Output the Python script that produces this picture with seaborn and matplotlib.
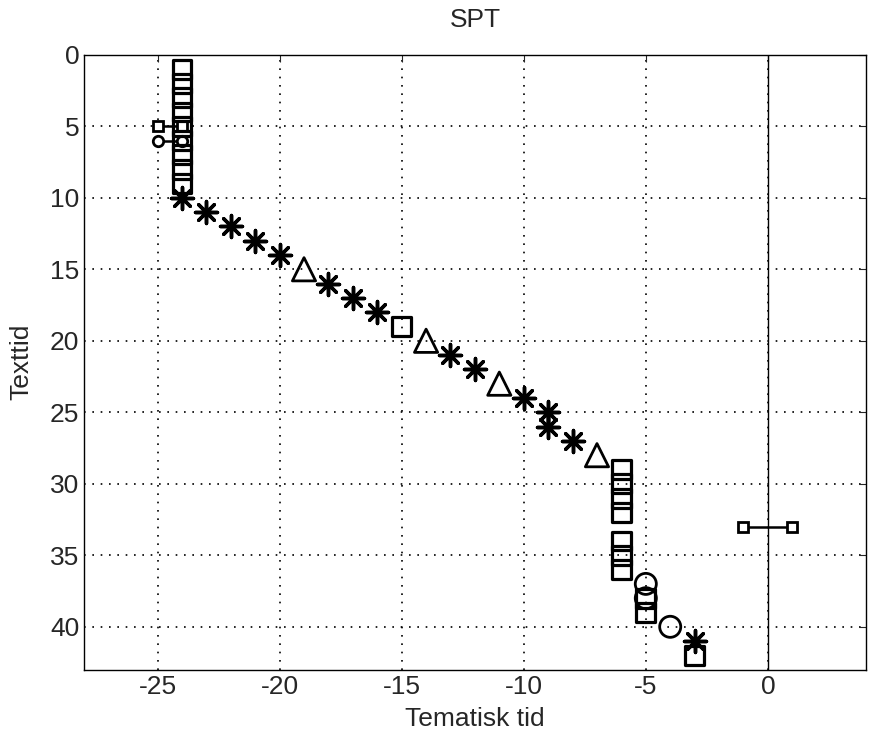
import numpy as np
import pandas as pd
import seaborn as sns
import matplotlib.pyplot as plt

# points (x = Tematisk tid, y = Texttid)
sq_x = [-24, -24, -24, -24, -24, -24, -24, -24, -24, -15,
        -6, -6, -6, -6, -6, -6, -6, -5, -5, -3]
sq_y = [1, 2, 3, 4, 5, 6, 7, 8, 9, 19,
        29, 30, 31, 32, 34, 35, 36, 38, 39, 42]
ast_x = [-24, -23, -22, -21, -20, -18, -17, -16, -13, -12, -10, -9, -9, -8, -3]
ast_y = [10, 11, 12, 13, 14, 16, 17, 18, 21, 22, 24, 25, 26, 27, 41]
tri_x = [-19, -14, -11, -7]
tri_y = [15, 20, 23, 28]
circ_x = [-5, -5, -4]
circ_y = [37, 38, 40]

# short segments with small end markers
seg_sq = [([-25, -24], [5, 5]), ([-1, 1], [33, 33])]
seg_circ = [([-25, -24], [6, 6])]

sns.set_style('white')
plt.rcParams['font.family'] = ['Liberation Sans', 'DejaVu Sans']
plt.rcParams['axes.unicode_minus'] = False

fig = plt.figure(figsize=(8.69, 7.4), dpi=100)
ax = fig.add_axes([0.097, 0.095, 0.899, 0.831])

# vertical reference line at 0
ax.axvline(0, color='black', lw=1, zorder=1)

for xs, ys in seg_sq:
    sns.lineplot(x=xs, y=ys, ax=ax, color='black', lw=1.8, sort=False,
                 marker='s', markersize=7.5, markerfacecolor='white',
                 markeredgecolor='black', markeredgewidth=2, zorder=3)
for xs, ys in seg_circ:
    sns.lineplot(x=xs, y=ys, ax=ax, color='black', lw=1.8, sort=False,
                 marker='o', markersize=7.5, markerfacecolor='white',
                 markeredgecolor='black', markeredgewidth=2, zorder=3)

sns.scatterplot(x=sq_x, y=sq_y, ax=ax, marker='s', s=185,
                facecolors='none', edgecolor='black', linewidth=2.3, zorder=4)
sns.scatterplot(x=circ_x, y=circ_y, ax=ax, marker='o', s=230,
                facecolors='none', edgecolor='black', linewidth=2, zorder=4)
sns.scatterplot(x=tri_x, y=tri_y, ax=ax, marker='^', s=280,
                facecolors='none', edgecolor='black', linewidth=2, zorder=4)
sns.scatterplot(x=ast_x, y=ast_y, ax=ax, marker=(8, 2, 0), s=250,
                color='black', linewidth=2.5, zorder=4)

ax.set_xlim(-28, 4)
ax.set_ylim(43, 0)
ax.set_xticks([-25, -20, -15, -10, -5, 0])
ax.set_yticks(np.arange(0, 45, 5))
ax.grid(True, color='black', linestyle=(0, (1, 4)), lw=1.2)
ax.tick_params(direction='in', top=True, right=True, labelsize=19, length=5)
for sp in ax.spines.values():
    sp.set_color('black')
    sp.set_linewidth(1)

ax.set_title('SPT', fontsize=19, pad=20)
ax.set_xlabel('Tematisk tid', fontsize=19, labelpad=6)
ax.set_ylabel('Texttid', fontsize=19, labelpad=12)

fig.savefig('out.png', dpi=100)
